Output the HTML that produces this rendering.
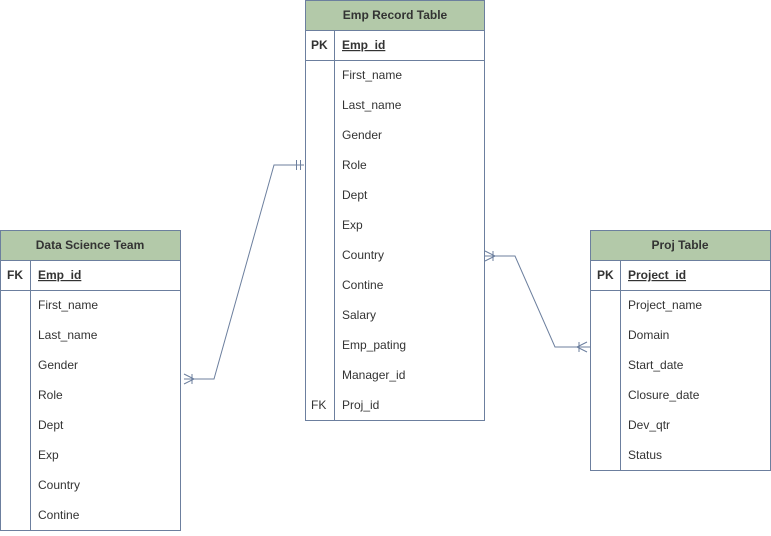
<!DOCTYPE html>
<html><head><meta charset="utf-8"><style>
body{margin:0;background:#fff}
text{font-family:"Liberation Sans",sans-serif;font-size:12px;fill:#333}
.h{font-weight:bold;text-anchor:middle}
.b{font-weight:bold}
</style></head><body>
<svg width="771" height="531" viewBox="0 0 771 531" xmlns="http://www.w3.org/2000/svg">
<g stroke="#6c7f9e" fill="none" stroke-width="1">
<!-- Emp table -->
<rect x="305.5" y="0.5" width="179" height="30" fill="#b3c9a9"/>
<rect x="305.5" y="30.5" width="179" height="390" fill="#fff"/>
<line x1="305.5" y1="60.5" x2="484.5" y2="60.5"/>
<line x1="334.5" y1="30.5" x2="334.5" y2="420.5"/>
<!-- DS table -->
<rect x="0.5" y="230.5" width="180" height="30" fill="#b3c9a9"/>
<rect x="0.5" y="260.5" width="180" height="270" fill="#fff"/>
<line x1="0.5" y1="290.5" x2="180.5" y2="290.5"/>
<line x1="30.5" y1="260.5" x2="30.5" y2="530.5"/>
<!-- Proj table -->
<rect x="590.5" y="230.5" width="180" height="30" fill="#b3c9a9"/>
<rect x="590.5" y="260.5" width="180" height="210" fill="#fff"/>
<line x1="590.5" y1="290.5" x2="770.5" y2="290.5"/>
<line x1="620.5" y1="260.5" x2="620.5" y2="470.5"/>
<!-- connectors -->
<polyline points="184,379 214,379 274,165 304,165"/>
<line x1="184" y1="374" x2="194" y2="379"/><line x1="184" y1="384" x2="194" y2="379"/><line x1="192" y1="374" x2="192" y2="384"/>
<line x1="296.5" y1="160" x2="296.5" y2="170"/><line x1="300.5" y1="160" x2="300.5" y2="170"/>
<polyline points="485,256 515,256 555,347 590,347"/>
<line x1="485" y1="251" x2="495" y2="256"/><line x1="485" y1="261" x2="495" y2="256"/><line x1="493" y1="251" x2="493" y2="261"/>
<line x1="587" y1="342" x2="577" y2="347"/><line x1="587" y1="352" x2="577" y2="347"/><line x1="579" y1="342" x2="579" y2="352"/>
</g>
<text class="h" x="395" y="19">Emp Record Table</text>
<text class="b" x="311" y="49">PK</text>
<text class="b" x="342" y="49" text-decoration="underline">Emp_id</text>
<g>
<text x="342" y="79">First_name</text><text x="342" y="109">Last_name</text><text x="342" y="139">Gender</text>
<text x="342" y="169">Role</text><text x="342" y="199">Dept</text><text x="342" y="229">Exp</text>
<text x="342" y="259">Country</text><text x="342" y="289">Contine</text><text x="342" y="319">Salary</text>
<text x="342" y="349">Emp_pating</text><text x="342" y="379">Manager_id</text><text x="342" y="409">Proj_id</text>
<text x="311" y="409">FK</text>
</g>
<text class="h" x="90" y="249">Data Science Team</text>
<text class="b" x="7" y="279">FK</text>
<text class="b" x="38" y="279" text-decoration="underline">Emp_id</text>
<text x="38" y="309">First_name</text><text x="38" y="339">Last_name</text><text x="38" y="369">Gender</text>
<text x="38" y="399">Role</text><text x="38" y="429">Dept</text><text x="38" y="459">Exp</text>
<text x="38" y="489">Country</text><text x="38" y="519">Contine</text>
<text class="h" x="680" y="249">Proj Table</text>
<text class="b" x="597" y="279">PK</text>
<text class="b" x="628" y="279" text-decoration="underline">Project_id</text>
<text x="628" y="309">Project_name</text><text x="628" y="339">Domain</text><text x="628" y="369">Start_date</text>
<text x="628" y="399">Closure_date</text><text x="628" y="429">Dev_qtr</text><text x="628" y="459">Status</text>
</svg>
</body></html>
